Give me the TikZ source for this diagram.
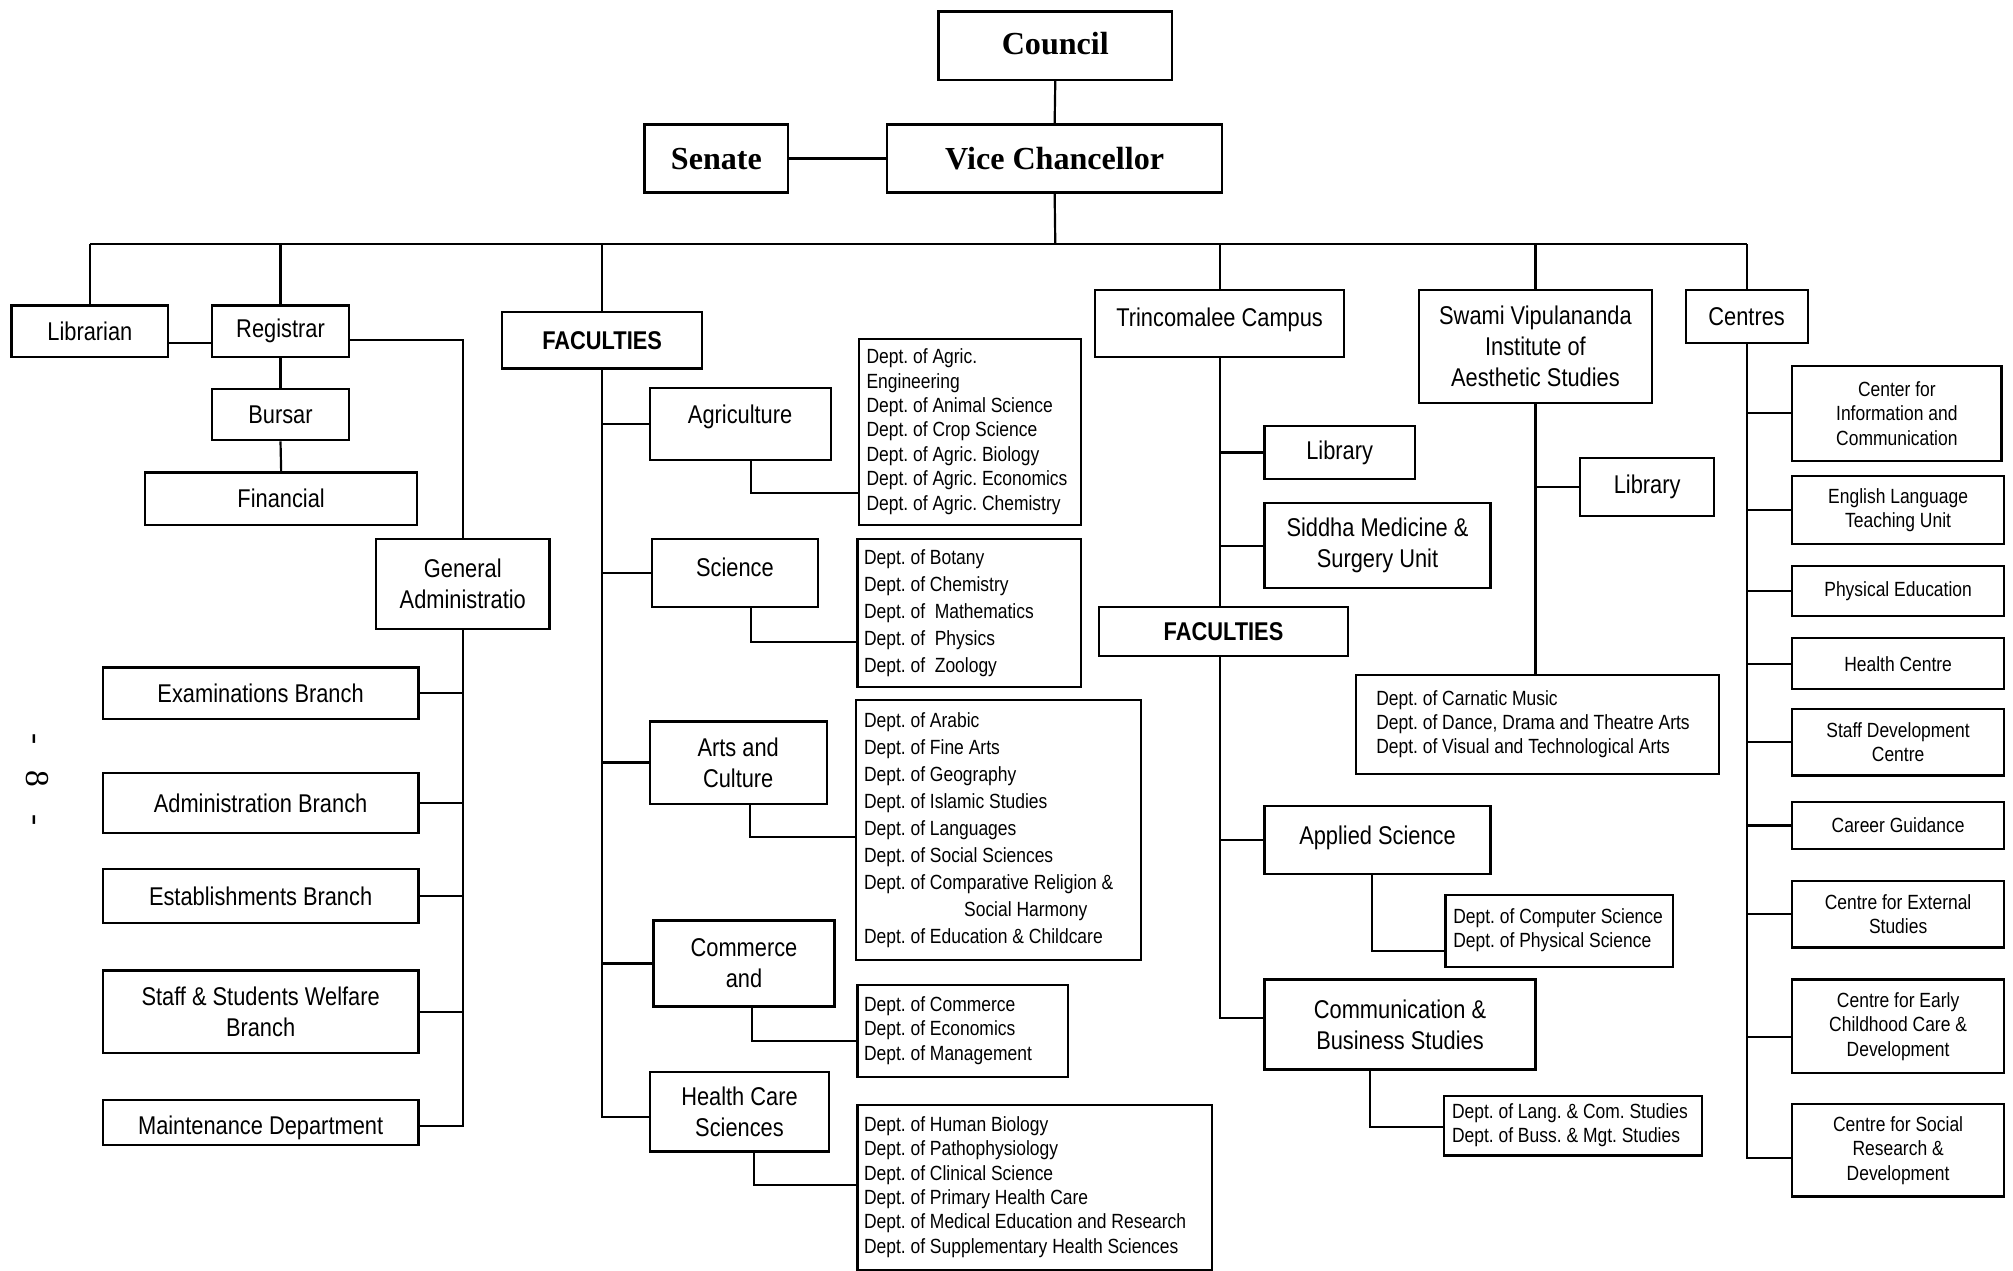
\documentclass[tikz,border=0pt]{standalone}
\usepackage{fontspec}
\setmainfont{Liberation Sans}
\newfontfamily\nar{Liberation Sans}[FakeStretch=0.85]
\newfontfamily\serb{Liberation Serif}
\usetikzlibrary{calc}

\tikzset{
  bx/.style={draw, line width=0.85pt, inner sep=0pt, align=center, font=\nar\fontsize{10}{12}\selectfont},
  headbx/.style={bx, font=\serb\bfseries\fontsize{12.5}{14}\selectfont},
  facbx/.style={bx, font=\nar\bfseries\fontsize{10}{12}\selectfont},
  smallbx/.style={bx, font=\nar\fontsize{8}{9.5}\selectfont},
  deptbx/.style={draw, line width=0.85pt, inner sep=0pt, font=\nar\fontsize{8}{9.5}\selectfont},
  link/.style={line width=0.85pt},
}

% box given by its corners (x1,y1)-(x2,y2) in picture units
\newcommand\mkbox[7][bx]{%
  \node[#1, minimum width={(#5-#3)*0.5pt}, minimum height={(#6-#4)*0.5pt}]
    (#2) at ({(#3+#5)/2},{(#4+#6)/2}) {#7};}
% department list box: [arraystretch]{name}{x1}{y1}{x2}{y2}{left pad}{lines}
\newcommand\mkdept[8][1]{%
  \pgfmathsetlengthmacro\dbw{(#5-#3-2*#7)*0.5pt}%
  \node[deptbx, minimum width={(#5-#3)*0.5pt}, minimum height={(#6-#4)*0.5pt}]
    (#2) at ({(#3+#5)/2},{(#4+#6)/2})
    {\makebox[\dbw][l]{\renewcommand\arraystretch{#1}\begin{tabular}{@{}l@{}}#8\end{tabular}}};}

\begin{document}
\frenchspacing
\begin{tikzpicture}[x=0.5pt, y=-0.5pt]
\useasboundingbox (0,0) rectangle (1568,990);

% ---- top
\mkbox[headbx]{council}{731}{9}{913}{62}{\raisebox{2pt}{Council}}
\mkbox[headbx]{senate}{502}{97}{614}{150}{Senate}
\mkbox[headbx]{vc}{691}{97}{952}{150}{Vice Chancellor}
\coordinate (bus) at (822,190);

% ---- administration
\mkbox{lib}{9}{238}{131}{278}{Librarian}
\mkbox{reg}{165}{238}{272}{278}{Registrar}
\mkbox{bursar}{165}{303}{272}{343}{Bursar}
\mkbox{fin}{113}{368}{325}{409}{Financial}
\mkbox{ga}{293}{420}{428}{490}{General\\Administratio}
\mkbox{exam}{80}{520}{326}{560}{Examinations Branch}
\mkbox{admin}{80}{602}{326}{649}{Administration Branch}
\mkbox{estab}{80}{677}{326}{719}{Establishments Branch}
\mkbox{welfare}{80}{756}{326}{820}{Staff \& Students Welfare\\Branch}
\mkbox{maint}{80}{857}{326}{892}{\raisebox{-1pt}[\height][0pt]{Maintenance Department}}

\node[rotate=-90, inner sep=0pt, font=\serb\fontsize{13}{15}\selectfont] (pg) at (29,607)
  {-\hspace{0.8em}8\hspace{0.8em}-};

% ---- faculties (main campus)
\mkbox[facbx]{facA}{391}{243}{547}{287}{FACULTIES}
\mkbox{agri}{506}{302}{647}{358}{\raisebox{7pt}{Agriculture}}
\mkbox{sci}{508}{420}{637}{473}{\raisebox{5pt}{Science}}
\mkbox{arts}{506}{562}{644}{626}{Arts and\\Culture}
\mkbox{comm}{509}{717}{650}{784}{Commerce\\and}
\mkbox{health}{506}{835}{646}{897}{Health Care\\Sciences}

\mkdept{agd}{669}{264}{842}{409}{6}{Dept. of Agric.\\Engineering\\Dept. of Animal Science\\Dept. of Crop Science\\Dept. of Agric. Biology\\Dept. of Agric. Economics\\Dept. of Agric. Chemistry}
\mkdept[1.105]{scd}{668}{420}{842}{535}{5}{Dept. of Botany\\Dept. of Chemistry\\Dept. of\ \ Mathematics\\Dept. of\ \ Physics\\Dept. of\ \ Zoology}
\mkdept[1.105]{artd}{667}{545}{889}{748}{6}{Dept. of Arabic\\Dept. of Fine Arts\\Dept. of Geography\\Dept. of Islamic Studies\\Dept. of Languages\\Dept. of Social Sciences\\Dept. of Comparative Religion \&\\\hspace*{39pt}Social Harmony\\Dept. of Education \& Childcare}
\mkdept{comd}{668}{767}{832}{839}{5}{Dept. of Commerce\\Dept. of Economics\\Dept. of Management}
\mkdept{hd}{668}{861}{944}{989}{5}{Dept. of Human Biology\\Dept. of Pathophysiology\\Dept. of Clinical Science\\Dept. of Primary Health Care\\Dept. of Medical Education and Research\\Dept. of Supplementary Health Sciences}

% ---- Trincomalee campus
\mkbox{trinco}{853}{226}{1047}{278}{\raisebox{5pt}{Trincomalee Campus}}
\mkbox{tlib}{985}{332}{1102}{373}{Library}
\mkbox{siddha}{985}{392}{1161}{458}{Siddha Medicine \&\\Surgery Unit}
\mkbox[facbx]{facB}{856}{473}{1050}{511}{FACULTIES}
\mkbox{appl}{985}{628}{1161}{681}{\raisebox{4pt}{Applied Science}}
\mkdept{appd}{1126}{697}{1303}{753}{6}{Dept. of Computer Science\\Dept. of Physical Science}
\mkbox{cbs}{985}{763}{1196}{833}{Communication \&\\Business Studies}
\mkdept{cbsd}{1125}{854}{1326}{900}{6}{Dept. of Lang. \& Com. Studies\\Dept. of Buss. \& Mgt. Studies}

% ---- Swami Vipulananda Institute
\mkbox{swami}{1105}{226}{1287}{314}{Swami Vipulananda\\Institute of\\Aesthetic Studies}
\mkbox{slib}{1231}{357}{1335}{402}{Library}
\mkdept{swd}{1056}{526}{1339}{603}{16}{Dept. of Carnatic Music\\Dept. of Dance, Drama and Theatre Arts\\Dept. of Visual and Technological Arts}

% ---- Centres
\mkbox{centres}{1313}{226}{1408}{267}{Centres}
\mkbox[smallbx]{c1}{1396}{285}{1559}{359}{Center for\\Information and\\Communication}
\mkbox[smallbx]{c2}{1396}{371}{1561}{424}{English Language\\Teaching Unit}
\mkbox[smallbx]{c3}{1396}{441}{1561}{480}{Physical Education}
\mkbox[smallbx]{c4}{1396}{497}{1561}{537}{Health Centre}
\mkbox[smallbx]{c5}{1396}{552}{1561}{604}{Staff Development\\Centre}
\mkbox[smallbx]{c6}{1396}{625}{1561}{661}{Career Guidance}
\mkbox[smallbx]{c7}{1396}{686}{1561}{738}{Centre for External\\Studies}
\mkbox[smallbx]{c8}{1396}{763}{1561}{836}{Centre for Early\\Childhood Care \&\\Development}
\mkbox[smallbx]{c9}{1396}{860}{1561}{932}{Centre for Social\\Research \&\\Development}

% ================= connectors
\draw[link] (council.south) -- (vc.north);
\draw[link] (senate.east) -- (vc.west);
\draw[link] (vc.south) -- (bus);
\draw[link] (lib.north |- bus) -- (centres.north |- bus);
\foreach \n in {lib,reg,facA,trinco,swami,centres}
  \draw[link] (\n.north) -- (\n.north |- bus);

% administration
\draw[link] ([yshift=-4.5pt]lib.east) -- ([yshift=-4.5pt]reg.west);
\draw[link] ([yshift=-3.5pt]reg.east) -| (ga.north);
\draw[link] (reg.south) -- (bursar.north);
\draw[link] (bursar.south) -- (fin.north);
\draw[link] (ga.south) |- ([yshift=-1.25pt]maint.east);
\foreach \n in {exam,admin,estab,welfare}
  \draw[link] (\n.east) -- (\n.east -| ga.south);

% faculties (main)
\draw[link] (facA.south) |- ([yshift=-2pt]health.west);
\foreach \n in {agri,sci,arts,comm}
  \draw[link] (\n.west) -- (\n.west -| facA.south);
\coordinate (eA) at (585,384);
\coordinate (eS) at (585,500);
\coordinate (eR) at (584,652);
\coordinate (eC) at (586,811);
\coordinate (eH) at (587,923);
\draw[link] (agri.south -| eA) |- (agd.west |- eA);
\draw[link] (sci.south -| eS) |- (scd.west |- eS);
\draw[link] (arts.south -| eR) |- (artd.west |- eR);
\draw[link] (comm.south -| eC) |- (comd.west |- eC);
\draw[link] (health.south -| eH) |- (hd.west |- eH);

% Trincomalee
\draw[link] (trinco.south) -- (trinco.south |- facB.north);
\draw[link] (trinco.south |- facB.south) |- ([yshift=2.5pt]cbs.west);
\foreach \n in {tlib,siddha,appl}
  \draw[link] (\n.west) -- (\n.west -| trinco.south);
\coordinate (eP) at (1069,741);
\coordinate (eB) at (1067,878);
\draw[link] (appl.south -| eP) |- (appd.west |- eP);
\draw[link] (cbs.south -| eB) |- (cbsd.west |- eB);

% Swami
\draw[link] (swami.south) -- (swami.south |- swd.north);
\draw[link] (slib.west) -- (slib.west -| swami.south);

% Centres
\draw[link] (centres.south) |- ([yshift=-3pt]c9.west);
\foreach \n in {c1,c2,c3,c4,c5,c6,c7}
  \draw[link] (\n.west) -- (\n.west -| centres.south);
\draw[link] ([yshift=-4.25pt]c8.west) -- ([yshift=-4.25pt]c8.west -| centres.south);
\end{tikzpicture}
\end{document}
